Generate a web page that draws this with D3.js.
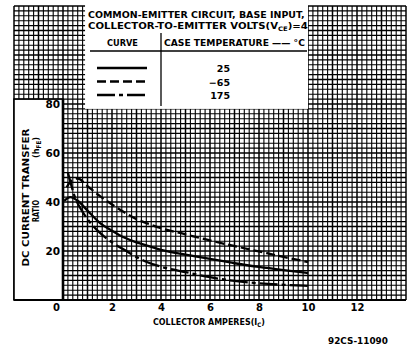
<!DOCTYPE html>
<html><head><meta charset="utf-8">
<script src="https://cdn.jsdelivr.net/npm/d3@7"></script>
<style>body{margin:0;background:#fff}svg{display:block}</style>
</head><body>
<svg id="c" width="408" height="347"></svg>
<script>
// ---- data ----
const xTicks = [0, 2, 4, 6, 8, 10, 12];
const yTicks = [20, 40, 60, 80];
const ic25 = [0.05, 0.3, 0.6, 1, 1.5, 2, 2.5, 3, 3.5, 4, 5, 6, 7, 8, 9, 10];
const hfe25 = [40.5, 42, 40.5, 36.5, 31.5, 28.3, 25.5, 23.5, 22, 20.5, 18.5, 16.8, 15, 13.5, 12.2, 11];
const icM65 = [0.15, 0.35, 0.6, 1, 1.5, 2, 2.5, 3, 3.5, 4, 5, 6, 7, 8, 9, 10];
const hfeM65 = [46, 48.8, 49.6, 46.5, 42.5, 39, 35.8, 33, 31, 29.3, 26.8, 24.3, 22, 19.8, 17.6, 15.5];
const ic175 = [0.2, 0.32, 0.45, 0.8, 1, 1.5, 2, 2.5, 3, 3.5, 4, 5, 6, 7, 8, 9, 10];
const hfe175 = [52, 47.5, 43, 36, 33, 27.5, 23.5, 20.5, 17.5, 15.2, 13.6, 11.4, 9.3, 7.8, 6.8, 6.2, 5.8];
const legendTemps = ["25", "\u221265", "175"];

const series = [
  {xs: ic25, ys: hfe25, dash: null},
  {xs: icM65, ys: hfeM65, dash: "9,4"},
  {xs: ic175, ys: hfe175, dash: "18,4,4,4"}
];

const svg = d3.select("#c");
const x = d3.scaleLinear().domain([-2, 14]).range([14, 406]);
const y = d3.scaleLinear().domain([0, 120]).range([300, 6]);
const FONT = "'DejaVu Sans', Verdana, sans-serif";

// ---- grid paper ----
const g = svg.append("g");
const gx = d3.range(0, 81).map(i => -2 + i * 0.2);
const gy = d3.range(0, 61).map(i => i * 2);
g.selectAll("line.vx").data(gx).join("line")
  .attr("x1", d => x(d)).attr("x2", d => x(d))
  .attr("y1", y(0)).attr("y2", y(120))
  .attr("stroke", "#000").attr("stroke-width", (d, i) => i % 5 === 0 ? 1.5 : 1.1);
g.selectAll("line.hy").data(gy).join("line")
  .attr("y1", d => y(d)).attr("y2", d => y(d))
  .attr("x1", x(-2)).attr("x2", x(14))
  .attr("stroke", "#000").attr("stroke-width", (d, i) => i % 5 === 0 ? 1.5 : 1.1);

// white boxes
svg.append("rect").attr("x", x(-2)).attr("y", y(82)).attr("width", x(0) - x(-2)).attr("height", y(0) - y(82))
  .attr("fill", "#fff").attr("stroke", "#000").attr("stroke-width", 1.6);
svg.append("rect").attr("x", x(0.9)).attr("y", y(120) - 1).attr("width", x(10) - x(0.9)).attr("height", y(78) - y(120) + 1)
  .attr("fill", "#fff");

// axes lines
svg.append("line").attr("x1", x(-2)).attr("x2", x(14)).attr("y1", y(0)).attr("y2", y(0))
  .attr("stroke", "#000").attr("stroke-width", 2);
svg.append("line").attr("x1", x(0)).attr("x2", x(0)).attr("y1", y(0)).attr("y2", y(82))
  .attr("stroke", "#000").attr("stroke-width", 2.6);

// ---- curves ----
const line = d3.line().x(d => x(d[0])).y(d => y(d[1])).curve(d3.curveMonotoneX);
series.forEach(s => {
  svg.append("path").datum(s.xs.map((v, i) => [v, s.ys[i]]))
    .attr("d", line).attr("fill", "none").attr("stroke", "#000")
    .attr("stroke-width", 2.3).attr("stroke-dasharray", s.dash);
});

// ---- axes ----
const xAxis = svg.append("g").attr("transform", `translate(0,${y(0)})`)
  .call(d3.axisBottom(x).tickValues(xTicks).tickSize(0).tickPadding(4).tickFormat(d3.format("d")));
xAxis.select(".domain").remove();
xAxis.selectAll("text").attr("font-family", FONT).attr("font-weight", "bold").attr("font-size", 10)
  .attr("fill", "#000").attr("dx", d => d === 0 ? -7 : 0);

const yAxis = svg.append("g").attr("transform", `translate(${x(0)},0)`)
  .call(d3.axisLeft(y).tickValues(yTicks).tickSize(0).tickPadding(3).tickFormat(d3.format("d")));
yAxis.select(".domain").remove();
yAxis.selectAll("text").attr("font-family", FONT).attr("font-weight", "bold").attr("font-size", 10.5)
  .attr("fill", "#000");

// fitted text: parts = [[text, isSub], ...]; scaled horizontally to width w
function fit(parent, xp, yp, size, w, parts, anchor, rotate) {
  const grp = parent.append("g");
  const t = grp.append("text").attr("font-size", size)
    .attr("font-family", FONT).attr("font-weight", "bold").attr("fill", "#000");
  let sub = false;
  parts.forEach(p => {
    const s = typeof p === "string" ? [p, false] : p;
    const ts = t.append("tspan").text(s[0]);
    if (s[1] && !sub) ts.attr("font-size", size * 0.68).attr("dy", size * 0.22);
    else if (!s[1] && sub) ts.attr("dy", -size * 0.22);
    else if (s[1]) ts.attr("font-size", size * 0.68);
    sub = s[1];
  });
  const nat = t.node().getComputedTextLength();
  const k = w / nat;
  const off = anchor === "middle" ? -w / 2 : anchor === "end" ? -w : 0;
  grp.attr("transform", `translate(${xp},${yp})` + (rotate ? ` rotate(${rotate})` : "") + ` translate(${off},0) scale(${k},1)`);
  return grp;
}

// x axis title
fit(svg, 153, 325, 9, 112, ["COLLECTOR  AMPERES(I", ["C", true], ")"]);

// y axis title (rotated)
fit(svg, 29, 197.5, 9.5, 138, ["DC  CURRENT  TRANSFER"], "middle", -90);
fit(svg, 39, 211, 9.5, 22, ["RATIO"], "middle", -90);
fit(svg, 39, 147.5, 9.5, 21, ["(h", ["FE", true], ")"], "middle", -90);

// footnote
fit(svg, 388, 344, 9, 60, ["92CS-11090"], "end");

// ---- legend box contents ----
fit(svg, 88, 18, 9, 217, ["COMMON-EMITTER  CIRCUIT,  BASE  INPUT,"]);
fit(svg, 88, 29, 9, 220, ["COLLECTOR-TO-EMITTER  VOLTS(V", ["CE", true], ")=4"]);
fit(svg, 107, 46, 9, 31, ["CURVE"]);
fit(svg, 164, 46, 9, 141, ["CASE TEMPERATURE \u2014\u2014 \u00B0C"]);
svg.append("line").attr("x1", 90).attr("x2", 307).attr("y1", 51).attr("y2", 51).attr("stroke", "#000").attr("stroke-width", 1.3);
svg.append("line").attr("x1", 161).attr("x2", 161).attr("y1", 33).attr("y2", 106).attr("stroke", "#000").attr("stroke-width", 1.3);

const legY = [68, 81.5, 95];
series.forEach((s, i) => {
  svg.append("line").attr("x1", 97).attr("x2", 147).attr("y1", legY[i]).attr("y2", legY[i])
    .attr("stroke", "#000").attr("stroke-width", 2.3).attr("stroke-dasharray", s.dash);
  svg.append("text").attr("x", 230).attr("y", legY[i] + 4).attr("text-anchor", "end")
    .attr("font-family", FONT).attr("font-weight", "bold").attr("font-size", 9.5).text(legendTemps[i]);
});
</script>
</body></html>
